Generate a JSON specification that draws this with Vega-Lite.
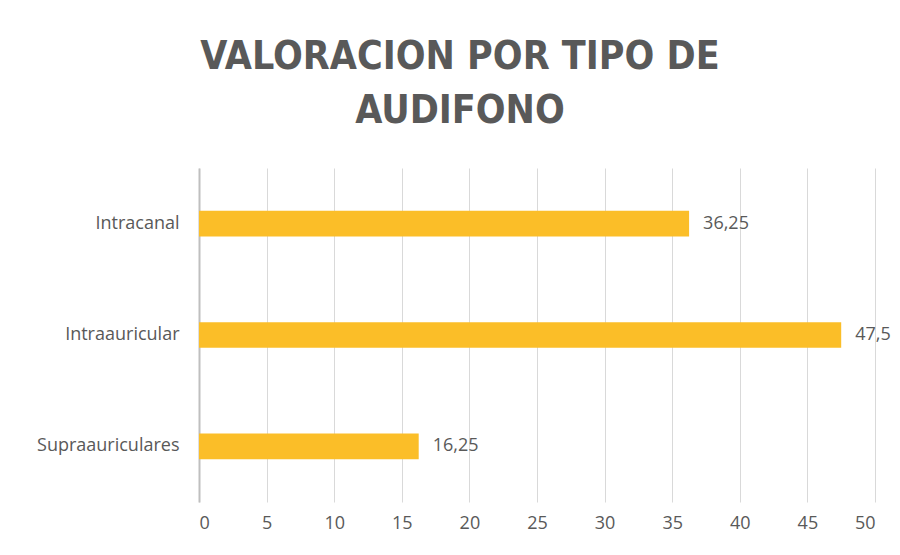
{
  "$schema": "https://vega.github.io/schema/vega-lite/v6.json",
  "width": 676,
  "height": 334,
  "autosize": {"type": "none"},
  "padding": {"left": 199, "top": 168, "right": 25, "bottom": 53},
  "background": "white",
  "config": {
    "locale": {"number": {"decimal": ",", "thousands": ".", "grouping": [3], "currency": ["", " €"]}},
    "view": {"stroke": null},
    "font": "Open Sans"
  },
  "title": {
    "text": ["VALORACION POR TIPO DE", "AUDIFONO"],
    "font": "DejaVu Sans Condensed",
    "fontWeight": "bold",
    "fontSize": 39,
    "color": "#595959",
    "lineHeight": 54,
    "anchor": "middle",
    "frame": "group",
    "dx": -77,
    "offset": 6,
    "baseline": "alphabetic"
  },
  "data": {
    "values": [
      {"tipo": "Intracanal", "valor": 36.25},
      {"tipo": "Intraauricular", "valor": 47.5},
      {"tipo": "Supraauriculares", "valor": 16.25}
    ]
  },
  "encoding": {
    "y": {
      "field": "tipo",
      "type": "nominal",
      "sort": null,
      "scale": {"paddingInner": 0.77, "paddingOuter": 0.385},
      "axis": {
        "title": null,
        "ticks": false,
        "domain": true,
        "domainColor": "#BFBFBF",
        "domainWidth": 2,
        "labelFont": "Open Sans",
        "labelFontSize": 18,
        "labelColor": "#595959",
        "labelPadding": 20
      }
    },
    "x": {
      "field": "valor",
      "type": "quantitative",
      "scale": {"domain": [0, 50], "nice": false},
      "axis": {
        "title": null,
        "values": [0, 5, 10, 15, 20, 25, 30, 35, 40, 45, 50],
        "grid": true,
        "gridColor": "#D9D9D9",
        "gridWidth": 1,
        "domain": false,
        "ticks": false,
        "labelFont": "Open Sans",
        "labelFontSize": 18,
        "labelColor": "#595959",
        "labelPadding": 12
      }
    }
  },
  "layer": [
    {"mark": {"type": "bar", "color": "#FBBE28"}},
    {
      "mark": {"type": "text", "align": "left", "dx": 14, "font": "Open Sans", "fontSize": 18, "color": "#595959"},
      "encoding": {"text": {"field": "valor", "type": "quantitative", "format": "~g"}}
    }
  ]
}
